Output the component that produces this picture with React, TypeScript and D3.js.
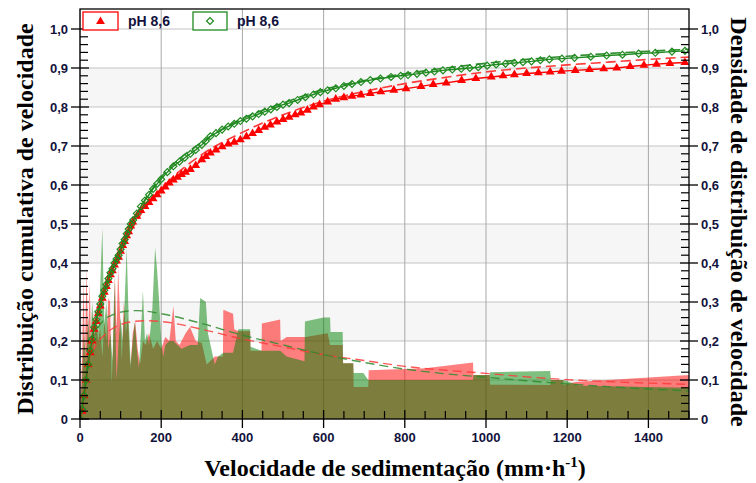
import React from "react";
import * as d3 from "d3";

// ---------- data ----------
const xTicks = [0, 200, 400, 600, 800, 1000, 1200, 1400];
const yTicks = [0, 0.1, 0.2, 0.3, 0.4, 0.5, 0.6, 0.7, 0.8, 0.9, 1.0];
const yTickLabels = ["0", "0,1", "0,2", "0,3", "0,4", "0,5", "0,6", "0,7", "0,8", "0,9", "1,0"];
const bandRanges: [number, number][] = [[0, 0.1], [0.2, 0.3], [0.4, 0.5], [0.6, 0.7], [0.8, 0.9]];
const legendLabels = ["pH 8,6", "pH 8,6"];

// cumulative distribution (red, triangles)
const redCumX = [0, 5, 10, 15, 20, 25, 30, 35, 40, 45, 50, 55, 60, 65, 70, 75, 80, 85, 90, 95, 100, 105, 110, 115, 120, 125, 130, 140, 150, 160, 170, 180, 190, 200, 210, 220, 230, 240, 250, 260, 272, 285, 300, 310, 321, 335, 350, 365, 380, 395, 410, 425, 440, 455, 469, 485, 500, 515, 530, 544, 560, 575, 590, 610, 630, 650, 670, 692, 715, 741, 773, 803, 840, 870, 902, 940, 975, 1013, 1042, 1070, 1100, 1129, 1158, 1186, 1220, 1255, 1290, 1322, 1355, 1389, 1420, 1453, 1490];
const redCumY = [0, 0.02, 0.06, 0.1, 0.14, 0.17, 0.2, 0.23, 0.25, 0.27, 0.29, 0.31, 0.325, 0.34, 0.355, 0.37, 0.38, 0.395, 0.405, 0.415, 0.43, 0.445, 0.455, 0.47, 0.48, 0.495, 0.505, 0.52, 0.535, 0.545, 0.555, 0.565, 0.575, 0.585, 0.595, 0.605, 0.613, 0.62, 0.627, 0.633, 0.64, 0.65, 0.665, 0.673, 0.682, 0.69, 0.698, 0.705, 0.71, 0.716, 0.724, 0.732, 0.74, 0.748, 0.754, 0.762, 0.768, 0.774, 0.78, 0.785, 0.792, 0.8, 0.806, 0.813, 0.82, 0.824, 0.828, 0.831, 0.835, 0.839, 0.843, 0.847, 0.853, 0.858, 0.862, 0.868, 0.873, 0.877, 0.88, 0.883, 0.886, 0.888, 0.89, 0.892, 0.894, 0.896, 0.898, 0.9, 0.904, 0.907, 0.91, 0.912, 0.914];

// cumulative distribution (green, diamonds)
const greenCumX = [0, 5, 10, 15, 20, 25, 30, 35, 40, 45, 50, 55, 60, 65, 70, 75, 80, 85, 90, 95, 100, 105, 110, 115, 120, 125, 131, 140, 150, 160, 170, 180, 190, 200, 215, 230, 245, 258, 272, 285, 300, 310, 321, 335, 350, 365, 380, 395, 410, 425, 440, 455, 470, 485, 500, 515, 536, 555, 575, 592, 610, 630, 650, 670, 692, 715, 740, 766, 790, 808, 830, 852, 873, 894, 917, 939, 960, 981, 1003, 1025, 1048, 1070, 1091, 1112, 1134, 1156, 1187, 1218, 1258, 1297, 1336, 1376, 1417, 1458, 1490];
const greenCumY = [0, 0.025, 0.06, 0.1, 0.14, 0.175, 0.205, 0.235, 0.255, 0.275, 0.295, 0.315, 0.33, 0.345, 0.36, 0.375, 0.385, 0.4, 0.41, 0.42, 0.435, 0.45, 0.46, 0.475, 0.487, 0.5, 0.51, 0.527, 0.545, 0.56, 0.575, 0.59, 0.603, 0.615, 0.633, 0.648, 0.66, 0.67, 0.68, 0.69, 0.703, 0.713, 0.725, 0.733, 0.742, 0.75, 0.757, 0.764, 0.77, 0.776, 0.782, 0.788, 0.794, 0.8, 0.806, 0.81, 0.818, 0.825, 0.832, 0.838, 0.843, 0.848, 0.854, 0.859, 0.864, 0.869, 0.873, 0.877, 0.88, 0.882, 0.885, 0.888, 0.891, 0.894, 0.896, 0.898, 0.9, 0.902, 0.906, 0.909, 0.911, 0.913, 0.915, 0.917, 0.92, 0.922, 0.924, 0.926, 0.929, 0.932, 0.934, 0.937, 0.939, 0.942, 0.944];

// fitted cumulative curves (dashed)
const redCumFitX = [0, 25, 50, 75, 100, 150, 200, 300, 400, 500, 600, 700, 800, 900, 1000, 1100, 1200, 1300, 1400, 1500];
const redCumFitY = [0, 0.17, 0.285, 0.37, 0.43, 0.525, 0.59, 0.678, 0.735, 0.78, 0.815, 0.84, 0.86, 0.876, 0.89, 0.9, 0.908, 0.915, 0.922, 0.928];
const greenCumFitX = [0, 25, 50, 75, 100, 150, 200, 300, 400, 500, 600, 700, 800, 900, 1000, 1100, 1200, 1300, 1400, 1500];
const greenCumFitY = [0, 0.18, 0.3, 0.38, 0.44, 0.545, 0.62, 0.71, 0.77, 0.81, 0.845, 0.868, 0.885, 0.9, 0.912, 0.922, 0.93, 0.937, 0.943, 0.948];

// density histograms
const redHistX = [0, 5, 9, 12, 16, 20, 24, 28, 32, 36, 40, 45, 50, 55, 60, 65, 70, 74, 78, 82, 86, 90, 94, 98, 103, 108, 113, 118, 124, 130, 136, 142, 148, 155, 162, 170, 180, 190, 200, 210, 220, 230, 236, 245, 260, 271, 285, 300, 312, 332, 352, 353, 377, 380, 390, 419, 420, 447, 448, 493, 494, 509, 556, 610, 616, 647, 648, 673, 674, 710, 711, 850, 968, 969, 1009, 1010, 1158, 1160, 1190, 1191, 1220, 1500];
const redHistY = [0, 0.15, 0.36, 0.14, 0.39, 0.2, 0.35, 0.15, 0.28, 0.18, 0.25, 0.2, 0.23, 0.16, 0.25, 0.2, 0.31, 0.3, 0.09, 0.2, 0.37, 0.22, 0.39, 0.28, 0.15, 0.3, 0.22, 0.26, 0.13, 0.22, 0.25, 0.18, 0.14, 0.2, 0.19, 0.22, 0.18, 0.2, 0.18, 0.21, 0.2, 0.29, 0.2, 0.19, 0.22, 0.236, 0.2, 0.195, 0.14, 0.16, 0.16, 0.28, 0.27, 0.23, 0.225, 0.225, 0.175, 0.175, 0.245, 0.255, 0.2, 0.21, 0.21, 0.22, 0.19, 0.19, 0.143, 0.143, 0.082, 0.082, 0.125, 0.13, 0.145, 0.113, 0.113, 0.088, 0.087, 0.1, 0.1, 0.087, 0.095, 0.113];
const greenHistX = [0, 5, 10, 15, 20, 25, 30, 35, 40, 45, 50, 55, 60, 65, 70, 75, 80, 85, 90, 95, 100, 105, 110, 115, 120, 125, 130, 135, 140, 145, 150, 155, 160, 165, 170, 178, 185, 190, 195, 200, 205, 210, 220, 230, 240, 250, 271, 290, 296, 310, 315, 332, 340, 353, 377, 390, 419, 420, 447, 493, 509, 553, 554, 600, 616, 617, 647, 648, 673, 674, 698, 710, 850, 968, 969, 1009, 1010, 1158, 1160, 1190, 1220, 1230, 1500];
const greenHistY = [0, 0.1, 0.22, 0.14, 0.26, 0.18, 0.3, 0.2, 0.28, 0.22, 0.35, 0.49, 0.24, 0.3, 0.18, 0.22, 0.15, 0.36, 0.1, 0.2, 0.26, 0.2, 0.3, 0.44, 0.25, 0.14, 0.2, 0.25, 0.18, 0.13, 0.22, 0.33, 0.2, 0.22, 0.19, 0.28, 0.44, 0.38, 0.3, 0.2, 0.16, 0.19, 0.2, 0.2, 0.19, 0.18, 0.19, 0.19, 0.31, 0.3, 0.22, 0.14, 0.16, 0.17, 0.17, 0.23, 0.23, 0.185, 0.175, 0.175, 0.16, 0.148, 0.25, 0.26, 0.26, 0.223, 0.223, 0.143, 0.143, 0.118, 0.118, 0.1, 0.1, 0.1, 0.113, 0.113, 0.12, 0.123, 0.1, 0.1, 0.09, 0.085, 0.08];

// fitted density curves (dashed)
const redDensX = [30, 40, 60, 80, 100, 120, 160, 200, 300, 400, 500, 600, 700, 800, 900, 1000, 1100, 1200, 1300, 1400, 1500];
const redDensY = [0.17, 0.19, 0.215, 0.232, 0.242, 0.248, 0.252, 0.25, 0.23, 0.205, 0.185, 0.165, 0.15, 0.135, 0.125, 0.117, 0.108, 0.101, 0.096, 0.092, 0.089];
const greenDensX = [30, 45, 60, 80, 100, 140, 200, 300, 400, 500, 600, 700, 800, 900, 1000, 1100, 1200, 1300, 1400, 1500];
const greenDensY = [0.2, 0.235, 0.255, 0.267, 0.274, 0.278, 0.27, 0.245, 0.215, 0.19, 0.165, 0.145, 0.128, 0.116, 0.107, 0.098, 0.09, 0.083, 0.077, 0.072];

// ---------- layout ----------
const W = 756, H = 483;
const L = 80, R = 689, B = 419, T = 9;
const RED = "#ff0000";
const GREEN = "#1f8a1f";
const TICKCOL = "#12123c";

const zip = (xs: number[], ys: number[]) => xs.map((v, i) => [v, ys[i]] as [number, number]);

export default function App() {
  const x = d3.scaleLinear().domain([0, 1500]).range([L, R]);
  const y = d3.scaleLinear().domain([0, 1]).range([B, 29]);

  const area = d3.area<[number, number]>().x(d => x(d[0])).y0(y(0)).y1(d => y(d[1]));
  const line = d3.line<[number, number]>().x(d => x(d[0])).y(d => y(d[1]));
  const smooth = d3.line<[number, number]>().x(d => x(d[0])).y(d => y(d[1])).curve(d3.curveMonotoneX);

  const redHist = zip(redHistX, redHistY);
  const greenHist = zip(greenHistX, greenHistY);
  const redCum = zip(redCumX, redCumY);
  const greenCum = zip(greenCumX, greenCumY);
  const tri = d3.symbol(d3.symbolTriangle, 34)() as string;
  const sq = d3.symbol(d3.symbolSquare, 24)() as string;

  const xMinor = d3.range(0, 1501, 50).filter(v => v % 200 !== 0);
  const yMinor = d3.range(0, 51, 1).map(v => v / 50).filter((v, i) => i % 5 !== 0 && v <= 1.04);

  const tickFont = { fontFamily: "'Liberation Sans', Arial, sans-serif", fontWeight: 700, fontSize: 13, fill: TICKCOL } as const;
  const titleFont = { fontFamily: "'Liberation Serif', 'Times New Roman', serif", fontWeight: 700, fontSize: 24, fill: "#000" } as const;

  return (
    <svg width={W} height={H} style={{ position: "absolute", left: 0, top: 0, display: "block" }}>
      <defs>
        <clipPath id="plotClip">
          <rect x={L} y={T} width={R - L} height={B - T} />
        </clipPath>
      </defs>
      <rect x={0} y={0} width={W} height={H} fill="#fff" />
      {/* bands */}
      {bandRanges.map((b, i) => (
        <rect key={i} x={L} y={y(b[1])} width={R - L} height={y(b[0]) - y(b[1])} fill="#f6f6f6" />
      ))}
      {/* grid */}
      {yTicks.map((t, i) => (
        <line key={"gy" + i} x1={L} x2={R} y1={y(t)} y2={y(t)} stroke="#c4c4c4" strokeWidth={1} />
      ))}
      {xTicks.map((t, i) => (
        <line key={"gx" + i} x1={x(t)} x2={x(t)} y1={T} y2={B} stroke="#a8a8a8" strokeWidth={1} />
      ))}
      <g clipPath="url(#plotClip)">
        {/* histograms */}
        <path d={area(redHist) as string} fill="rgba(255,0,0,0.5)" />
        <path d={area(greenHist) as string} fill="rgba(0,128,0,0.5)" />
        {/* density fits */}
        <path d={smooth(zip(redDensX, redDensY)) as string} fill="none" stroke="#ff3a3a" strokeWidth={1.4} strokeDasharray="9,5" opacity={0.85} />
        <path d={smooth(zip(greenDensX, greenDensY)) as string} fill="none" stroke="#2e8b2e" strokeWidth={1.4} strokeDasharray="9,5" opacity={0.85} />
        {/* cumulative fits */}
        <path d={smooth(zip(redCumFitX, redCumFitY)) as string} fill="none" stroke="#ff3a3a" strokeWidth={1.6} strokeDasharray="10,5" />
        <path d={smooth(zip(greenCumFitX, greenCumFitY)) as string} fill="none" stroke="#2e8b2e" strokeWidth={1.6} strokeDasharray="10,5" />
        {/* cumulative curves */}
        <path d={line(redCum) as string} fill="none" stroke={RED} strokeWidth={1.4} />
        {redCum.map((d, i) => (
          <path key={"rt" + i} d={tri} transform={`translate(${x(d[0])},${y(d[1])})`} fill={RED} />
        ))}
        <path d={line(greenCum) as string} fill="none" stroke={GREEN} strokeWidth={1.4} />
        {greenCum.map((d, i) => (
          <path key={"gd" + i} d={sq} transform={`translate(${x(d[0])},${y(d[1])}) rotate(45)`} fill="none" stroke={GREEN} strokeWidth={1.2} />
        ))}
      </g>
      {/* frame */}
      <rect x={L} y={T} width={R - L} height={B - T} fill="none" stroke="#000" strokeWidth={1.3} />
      {/* left & right ticks */}
      {yTicks.map((t, i) => (
        <g key={"yt" + i}>
          <line x1={L - 9} x2={L + 9} y1={y(t)} y2={y(t)} stroke="#000" strokeWidth={1.3} />
          <line x1={R - 9} x2={R + 9} y1={y(t)} y2={y(t)} stroke="#000" strokeWidth={1.3} />
          <text x={L - 12} y={y(t)} dy="0.36em" textAnchor="end" {...tickFont}>{yTickLabels[i]}</text>
          <text x={R + 12} y={y(t)} dy="0.36em" textAnchor="start" {...tickFont}>{yTickLabels[i]}</text>
        </g>
      ))}
      {yMinor.map((t, i) => (
        <g key={"ym" + i}>
          <line x1={L} x2={L + 8} y1={y(t)} y2={y(t)} stroke="#000" strokeWidth={1.2} />
          <line x1={R - 8} x2={R} y1={y(t)} y2={y(t)} stroke="#000" strokeWidth={1.2} />
        </g>
      ))}
      {/* bottom ticks */}
      {xTicks.map((t, i) => (
        <g key={"xt" + i}>
          <line x1={x(t)} x2={x(t)} y1={B - 9} y2={B + 9} stroke="#000" strokeWidth={1.3} />
          <text x={x(t)} y={B + 23} textAnchor="middle" {...tickFont}>{t}</text>
        </g>
      ))}
      {xMinor.map((t, i) => (
        <line key={"xm" + i} x1={x(t)} x2={x(t)} y1={B - 8} y2={B} stroke="#000" strokeWidth={1.2} />
      ))}
      {/* axis titles */}
      <text x={395} y={476} textAnchor="middle" {...titleFont}>
        Velocidade de sedimentação (mm·h<tspan dy={-9} fontSize={15}>-1</tspan><tspan dy={9}>)</tspan>
      </text>
      <text transform={`translate(33,219) rotate(-90)`} textAnchor="middle" {...titleFont}>
        Distribuição cumulativa de velocidade
      </text>
      <text transform={`translate(731,222) rotate(90)`} textAnchor="middle" {...titleFont}>
        Densidade de distribuição de velocidade
      </text>
      {/* legend */}
      <rect x={83} y={12} width={35} height={18} fill="#fff" stroke={RED} strokeWidth={1.3} />
      <path d={tri} transform="translate(100.5,21.5)" fill={RED} />
      <text x={128} y={26} fontFamily="'Liberation Sans', Arial, sans-serif" fontWeight={700} fontSize={14} fill={TICKCOL}>{legendLabels[0]}</text>
      <rect x={193} y={12} width={34} height={18} fill="#fff" stroke={GREEN} strokeWidth={1.3} />
      <path d={sq} transform="translate(210,21) rotate(45)" fill="none" stroke={GREEN} strokeWidth={1.2} />
      <text x={237} y={26} fontFamily="'Liberation Sans', Arial, sans-serif" fontWeight={700} fontSize={14} fill={TICKCOL}>{legendLabels[1]}</text>
    </svg>
  );
}
